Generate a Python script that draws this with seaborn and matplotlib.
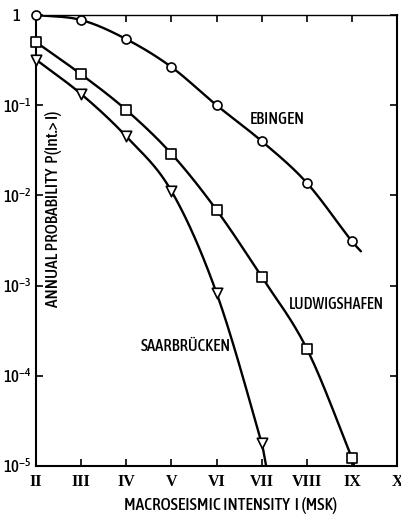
import numpy as np
import matplotlib
matplotlib.use("Agg")
import matplotlib.pyplot as plt
import seaborn as sns
from matplotlib import font_manager as fm

# Macroseismic intensities (MSK) and annual exceedance probabilities
intensity = [2, 3, 4, 5, 6, 7, 8, 9]
ebingen = [1.0, 0.88, 0.54, 0.265, 0.10, 0.040, 0.0138, 0.0031]
ludwigshafen = [0.50, 0.22, 0.0885, 0.029, 0.0069, 0.00125, 0.00020, 1.23e-5]
saar_intensity = [2, 3, 4, 5, 6, 7]
saarbruecken = [0.32, 0.133, 0.045, 0.0112, 0.00083, 1.8e-5]

# where each hand-drawn curve runs out beyond its last marker
ebingen_end = (9.2, 0.0024)
ludwigshafen_end = (9.05, 1.0e-5)
saarbruecken_end = (7.1, 1.0e-5)

xtick_labels = ["II", "III", "IV", "V", "VI", "VII", "VIII", "IX", "X"]
ytick_values = [1e-5, 1e-4, 1e-3, 1e-2, 1e-1, 1]
ytick_labels = ["$10^{-5}$", "$10^{-4}$", "$10^{-3}$", "$10^{-2}$", "$10^{-1}$",
                "1     "]

sns.set_theme(style="ticks")
plt.rcParams["font.family"] = ["DejaVu Sans"]
plt.rcParams["mathtext.default"] = "regular"
plt.rcParams["text.color"] = "black"


def find_narrow_font(want_bold):
    """Pick a condensed / narrow sans face if one is installed."""
    best = None
    for f in fm.fontManager.ttflist:
        fname = f.fname.lower()
        narrowish = (str(f.stretch) in ("condensed", "semi-condensed", "extra-condensed")
                     or "narrow" in f.name.lower() or "condensed" in fname
                     or "narrow" in fname)
        if not narrowish or "serif" in fname or "mono" in fname:
            continue
        if "oblique" in fname or "italic" in fname:
            continue
        is_bold = "bold" in fname and "semibold" not in fname and "extrabold" not in fname
        is_semi = "semibold" in fname or "medium" in fname
        if want_bold:
            score = 3 if is_semi else (2 if is_bold else 1)
        else:
            score = 1 if not (is_bold or is_semi) else 0
        if best is None or score > best[0]:
            best = (score, f.fname)
    return best[1] if best else None


narrow_path = find_narrow_font(want_bold=True)
if narrow_path:
    def fp(size):
        return fm.FontProperties(fname=narrow_path, size=size)
else:
    def fp(size):
        return fm.FontProperties(family="DejaVu Sans", weight="bold",
                                 size=size * 0.8)


def smooth_curve(x, y, end, n=40):
    """Cubic Hermite curve through the points, in (x, log10 y) space."""
    xs = np.asarray(list(x) + [end[0]], float)
    ys = np.log10(np.asarray(list(y) + [end[1]], float))
    m = np.empty_like(ys)
    m[1:-1] = (ys[2:] - ys[:-2]) / (xs[2:] - xs[:-2])
    m[0] = (ys[1] - ys[0]) / (xs[1] - xs[0])
    m[-1] = (ys[-1] - ys[-2]) / (xs[-1] - xs[-2])
    out_x, out_y = [], []
    for i in range(len(xs) - 1):
        h = xs[i + 1] - xs[i]
        t = np.linspace(0, 1, n)
        h00 = 2 * t ** 3 - 3 * t ** 2 + 1
        h10 = t ** 3 - 2 * t ** 2 + t
        h01 = -2 * t ** 3 + 3 * t ** 2
        h11 = t ** 3 - t ** 2
        out_x.extend(xs[i] + t * h)
        out_y.extend(h00 * ys[i] + h10 * h * m[i] + h01 * ys[i + 1] + h11 * h * m[i + 1])
    return np.array(out_x), 10 ** np.array(out_y)


fig = plt.figure(figsize=(4.02, 5.19), dpi=100)
ax = fig.add_axes([0.0896, 0.1021, 0.8980, 0.8690])

series = [
    (intensity, ebingen, ebingen_end, "o", 6.5),
    (intensity, ludwigshafen, ludwigshafen_end, "s", 6.5),
    (saar_intensity, saarbruecken, saarbruecken_end, "v", 7.5),
]
for xs, ys, end, marker, ms in series:
    cx, cy = smooth_curve(xs, ys, end)
    sns.lineplot(x=cx, y=cy, ax=ax, color="black", lw=1.7, sort=False,
                 estimator=None, zorder=2)
    sns.scatterplot(x=xs, y=ys, ax=ax, marker=marker, s=ms ** 2,
                    facecolor="white", edgecolor="black", linewidth=1.2,
                    zorder=3, clip_on=False)

ax.set_yscale("log")
ax.set_xlim(2, 10)
ax.set_ylim(1e-5, 1)
ax.set_xticks(range(2, 11))
ax.set_xticklabels(xtick_labels, family="Liberation Serif", fontweight="bold",
                   fontsize=11.5)
ax.set_yticks(ytick_values)
ax.set_yticklabels(ytick_labels)
for lab in ax.get_yticklabels():
    lab.set_fontproperties(fp(12))
ax.minorticks_off()
ax.tick_params(direction="in", length=5, width=1.2, top=True, right=True,
               pad=6, colors="black")
ax.tick_params(axis="y", pad=3)
for side in ax.spines.values():
    side.set_linewidth(1.5)
    side.set_color("black")
ax.spines["top"].set_linewidth(1.0)

fig.text(231 / 402, 1 - 505 / 519, "MACROSEISMIC INTENSITY  I (MSK)",
         ha="center", va="center", fontproperties=fp(12.5))
ax.text(0.049, 0.57, "ANNUAL PROBABILITY  P(Int.> I)", transform=ax.transAxes,
        rotation=90, ha="center", va="center", fontproperties=fp(12.5))

ax.text(6.74, 0.0686, "EBINGEN", ha="left", va="center", fontproperties=fp(12))
ax.text(7.61, 6.1e-4, "LUDWIGSHAFEN", ha="left", va="center", fontproperties=fp(11.5))
ax.text(4.31, 2.09e-4, "SAARBRÜCKEN", ha="left", va="center", fontproperties=fp(12))

fig.savefig("out.png", dpi=100)
